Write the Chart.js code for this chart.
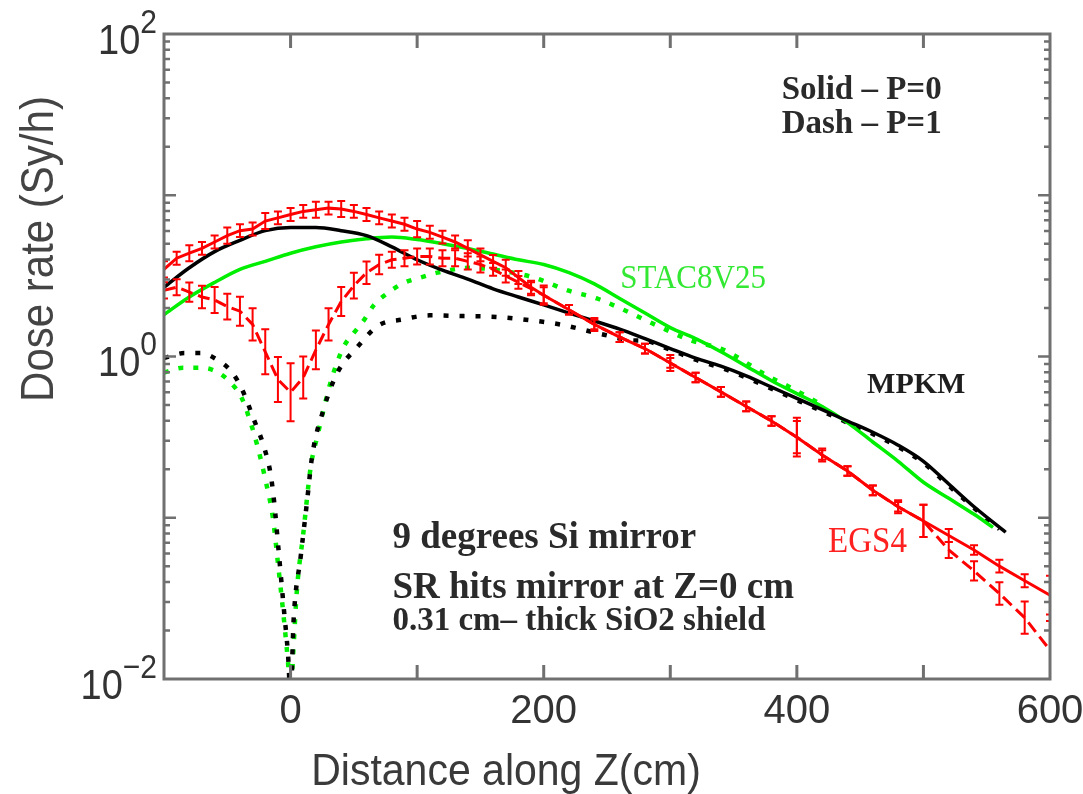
<!DOCTYPE html>
<html>
<head>
<meta charset="utf-8">
<script src="https://cdn.jsdelivr.net/npm/chart.js@4/dist/chart.umd.min.js"></script>
<style>
html,body{margin:0;padding:0;background:#fff;}
#wrap{width:1083px;height:794px;position:relative;}
</style>
</head>
<body>
<div id="wrap"><canvas id="c" width="1083" height="794"></canvas></div>
<script>
// ---------- data (Z in cm, dose rate in Sy/h) ----------
const Z_MPKM = [-100,-80,-60,-40,-20,0,20,40,60,80,100,120,140,160,180,200,220,240,260,280,300,320,340,360,380,400,420,440,460,480,500,520,540,565];
const MPKM_P0 = [2.69,3.55,4.47,5.25,6.03,6.31,6.31,6.03,5.62,4.79,3.98,3.43,3.02,2.63,2.34,2.09,1.86,1.66,1.48,1.29,1.12,0.977,0.871,0.759,0.646,0.550,0.468,0.398,0.339,0.282,0.224,0.162,0.117,0.0813];

const Z_MPKM_P1 = [-100,-84,-71,-58,-46,-38,-29,-21,-16,-13,-9.5,-5.5,-2,0,2.5,8,13,17,26,37,53,69,89,110,137,163,189,213,245,270,280,300,320,340,360,380,400,420,440,460,480,500,520,540,560];
const MPKM_P1 = [0.977,1.05,1.05,0.955,0.794,0.617,0.407,0.275,0.191,0.126,0.0631,0.0282,0.0141,0.0079,0.0240,0.0575,0.126,0.240,0.468,0.794,1.15,1.55,1.70,1.80,1.78,1.76,1.68,1.58,1.38,1.26,1.25,1.10,0.955,0.851,0.741,0.631,0.537,0.457,0.389,0.331,0.275,0.219,0.158,0.115,0.085];

const Z_STAC = [-100,-80,-60,-40,-20,0,20,40,60,80,100,120,140,160,180,200,220,240,260,280,300,320,340,360,380,400,420,440,460,480,500,520,540,555];
const STAC_P0 = [1.82,2.34,2.88,3.47,3.89,4.37,4.79,5.13,5.37,5.50,5.31,5.01,4.68,4.32,3.98,3.72,3.31,2.82,2.29,1.86,1.51,1.29,1.07,0.871,0.708,0.589,0.490,0.389,0.295,0.224,0.166,0.132,0.105,0.0871];

const Z_STAC_P1 = [-100,-85,-70,-57,-47,-39,-33,-26,-20,-14,-10,-5,-2,0,2,5,10,16,21,32,42,50,58,66,76,89,103,116,142,168,192,219,242,263,290,316,342,379,392,420];
const STAC_P1 = [0.794,0.851,0.851,0.794,0.684,0.562,0.422,0.275,0.174,0.100,0.0525,0.0224,0.0126,0.0079,0.0141,0.0355,0.0794,0.209,0.316,0.708,1.15,1.40,1.68,2.09,2.45,2.85,3.09,3.31,3.55,3.39,3.09,2.57,2.29,1.95,1.55,1.26,1.10,0.741,0.661,0.501];

const Z_EGS4 = [-100,-90,-80,-70,-60,-50,-40,-30,-20,-10,0,10,20,30,40,50,60,70,80,90,100,110,120,130,140,150,160,170,180,190,200,220,240,260,280,300,320,340,360,380,400,420,440,460,480,500,520,540,560,580,600];
const EGS4_P0 = [3.47,4.07,4.37,4.68,5.13,5.62,6.03,6.17,6.92,7.24,7.59,7.94,8.13,8.32,8.22,7.94,7.59,7.24,6.92,6.61,6.17,5.89,5.50,5.13,4.68,4.27,3.89,3.55,3.09,2.69,2.40,1.95,1.58,1.32,1.12,0.912,0.741,0.603,0.490,0.398,0.316,0.245,0.195,0.148,0.117,0.0955,0.0776,0.0631,0.0501,0.0407,0.0331];
const EGS4_P0_ERR = [0.05,0.04,0.05,0.04,0.04,0.05,0.04,0.04,0.05,0.04,0.04,0.04,0.05,0.04,0.05,0.04,0.04,0.04,0.04,0.04,0.05,0.04,0.04,0.04,0.05,0.04,0.04,0.05,0.04,0.04,0.06,0.03,0.04,0.03,0.03,0.05,0.03,0.03,0.03,0.03,0.12,0.04,0.03,0.03,0.04,0.10,0.04,0.03,0.04,0.04,0.12];
const EGS4_P1 = [2.57,2.69,2.51,2.34,2.24,2.04,1.91,1.58,1.07,0.72,0.60,0.74,1.10,1.58,2.19,2.75,3.31,3.72,3.98,4.07,4.17,4.17,4.07,4.07,3.89,3.72,3.47,3.16,2.88,2.63,2.40,1.95,1.58,1.32,1.12,0.912,0.741,0.603,0.490,0.398,0.316,0.245,0.195,0.148,0.117,0.0955,0.0631,0.0468,0.0339,0.0240,0.0151];
const EGS4_P1_ERR = [0.05,0.05,0.06,0.07,0.08,0.08,0.09,0.10,0.14,0.14,0.18,0.13,0.12,0.10,0.09,0.08,0.07,0.06,0.05,0.05,0.05,0.05,0.05,0.05,0.05,0.05,0.04,0.04,0.04,0.04,0.05,0.03,0.03,0.03,0.03,0.03,0.03,0.03,0.03,0.03,0.10,0.03,0.03,0.03,0.03,0.10,0.05,0.06,0.07,0.10,0.18];

const Y_LABEL_DECADES = [2, 0, -2];
const X_LABEL_STEP = 200;

// ---------- helpers ----------
const pts = (xs, ys) => xs.map((x, i) => ({x, y: ys[i]}));
const SANS = "'Liberation Sans', Arial, Helvetica, sans-serif";
const SERIF = "'Liberation Serif', 'Times New Roman', Times, serif";

const notes = [
  {text:'Solid \u2013 P=0', x:388, y:39.5, font:'bold 33px ' + SERIF, color:'#2a2a2a'},
  {text:'Dash \u2013 P=1', x:388, y:24.3, font:'bold 33px ' + SERIF, color:'#2a2a2a'},
  {text:'STAC8V25', x:260.5, y:2.66, font:'31px ' + SERIF, color:'#33e833', sy:1.12},
  {text:'MPKM', x:455.5, y:0.594, font:'bold 30px ' + SERIF, color:'#1e1e1e'},
  {text:'EGS4', x:424.7, y:0.0614, font:'33px ' + SERIF, color:'#ff2020', sy:1.1},
  {text:'9 degrees Si mirror', x:80.5, y:0.0649, font:'bold 37px ' + SERIF, color:'#2a2a2a'},
  {text:'SR hits mirror at Z=0 cm', x:80.5, y:0.0318, font:'bold 37px ' + SERIF, color:'#2a2a2a'},
  {text:'0.31 cm\u2013 thick SiO2 shield', x:80.5, y:0.0201, font:'bold 33px ' + SERIF, color:'#2a2a2a'}
];

function drawText(ctx, text, x, y, font, color, align, sy) {
  ctx.save();
  ctx.font = font;
  ctx.fillStyle = color;
  ctx.textAlign = align || 'left';
  ctx.textBaseline = 'alphabetic';
  ctx.translate(x, y);
  ctx.scale(1, sy || 1);
  ctx.fillText(text, 0, 0);
  ctx.restore();
}

const errorBars = {
  id: 'errorBars',
  afterDatasetsDraw(chart) {
    const {ctx, chartArea: a, scales: {x, y}} = chart;
    ctx.save();
    ctx.beginPath();
    ctx.rect(a.left, a.top, a.right - a.left, a.bottom - a.top);
    ctx.clip();
    chart.data.datasets.forEach((ds) => {
      if (!ds.errDex) return;
      ctx.strokeStyle = ds.borderColor;
      ctx.lineWidth = 2;
      ctx.setLineDash([]);
      ds.data.forEach((p, i) => {
        const e = Math.pow(10, ds.errDex[i]);
        const px = x.getPixelForValue(p.x);
        const y1 = y.getPixelForValue(p.y * e);
        const y2 = y.getPixelForValue(p.y / e);
        ctx.beginPath();
        ctx.moveTo(px, y1); ctx.lineTo(px, y2);
        ctx.moveTo(px - 4, y1); ctx.lineTo(px + 4, y1);
        ctx.moveTo(px - 4, y2); ctx.lineTo(px + 4, y2);
        ctx.stroke();
      });
    });
    ctx.restore();
  }
};

const frame = {
  id: 'frame',
  afterDraw(chart) {
    const {ctx, chartArea: a, scales: {x, y}} = chart;
    const col = '#707070';
    ctx.save();
    ctx.strokeStyle = col;
    ctx.lineWidth = 3;
    ctx.setLineDash([]);
    ctx.strokeRect(a.left, a.top, a.right - a.left, a.bottom - a.top);
    for (let v = x.min + 100; v < x.max; v += 100) {
      const px = x.getPixelForValue(v);
      ctx.beginPath();
      ctx.moveTo(px, a.bottom); ctx.lineTo(px, a.bottom - 14);
      ctx.moveTo(px, a.top); ctx.lineTo(px, a.top + 14);
      ctx.stroke();
    }
    ctx.lineWidth = 2.5;
    for (let d = -2; d < 2; d++) {
      for (let m = 1; m <= 9; m++) {
        const v = m * Math.pow(10, d);
        if (m === 1 && d === -2) continue;
        const py = y.getPixelForValue(v);
        const len = (m === 1) ? 12 : 6;
        ctx.beginPath();
        ctx.moveTo(a.left, py); ctx.lineTo(a.left + len, py);
        ctx.moveTo(a.right, py); ctx.lineTo(a.right - len, py);
        ctx.stroke();
      }
    }
    ctx.restore();

    const txtCol = '#333';
    Y_LABEL_DECADES.forEach(n => {
      const py = y.getPixelForValue(Math.pow(10, n));
      const sup = n < 0 ? '\u2212' + (-n) : String(n);
      ctx.save();
      ctx.font = '30px ' + SANS;
      const sw = ctx.measureText(sup).width;
      ctx.restore();
      const right = a.left - 7;
      drawText(ctx, sup, right - sw, py - 1.5, '30px ' + SANS, txtCol, 'left', 1.12);
      drawText(ctx, '10', right - sw, py + 19.5, '38px ' + SANS, txtCol, 'right', 1.14);
    });

    // x axis title
    drawText(ctx, 'Distance along Z(cm)', 506, 785, '41px ' + SANS, '#3a3a3a', 'center', 1.09);

    // y axis title
    ctx.save();
    ctx.translate(40, 249);
    ctx.rotate(-Math.PI / 2);
    ctx.scale(1, 1.08);
    ctx.font = '42px ' + SANS;
    ctx.fillStyle = '#444';
    ctx.textAlign = 'center';
    ctx.textBaseline = 'middle';
    ctx.fillText('Dose rate (Sy/h)', 0, 0);
    ctx.restore();

    notes.forEach(n => {
      drawText(ctx, n.text, x.getPixelForValue(n.x), y.getPixelForValue(n.y), n.font, n.color, 'left', n.sy || 1);
    });
  }
};

const RED = '#ff0000', GREEN = '#00ee00', BLACK = '#000000';

new Chart(document.getElementById('c'), {
  type: 'line',
  data: {
    datasets: [
      {label:'EGS4 P=0', data: pts(Z_EGS4, EGS4_P0), errDex: EGS4_P0_ERR, borderColor: RED, borderWidth: 3, tension: 0, pointRadius: 0},
      {label:'EGS4 P=1', data: pts(Z_EGS4, EGS4_P1), errDex: EGS4_P1_ERR, borderColor: RED, borderWidth: 3, borderDash: [12, 6], tension: 0, pointRadius: 0},
      {label:'MPKM P=0', data: pts(Z_MPKM, MPKM_P0), borderColor: BLACK, borderWidth: 3.5, tension: 0.4, cubicInterpolationMode: 'monotone', pointRadius: 0},
      {label:'STAC8V25 P=0', data: pts(Z_STAC, STAC_P0), borderColor: GREEN, borderWidth: 3.5, tension: 0.4, cubicInterpolationMode: 'monotone', pointRadius: 0},
      {label:'MPKM P=1', data: pts(Z_MPKM_P1, MPKM_P1), borderColor: BLACK, borderWidth: 4.5, borderDash: [5, 11], tension: 0.4, cubicInterpolationMode: 'monotone', pointRadius: 0},
      {label:'STAC8V25 P=1', data: pts(Z_STAC_P1, STAC_P1), borderColor: GREEN, borderWidth: 4.5, borderDash: [5, 10], tension: 0.4, cubicInterpolationMode: 'monotone', pointRadius: 0}
    ]
  },
  options: {
    responsive: false,
    animation: false,
    devicePixelRatio: 1,
    layout: {padding: {left: 0, top: 34, right: 33, bottom: 0}},
    plugins: {legend: {display: false}, tooltip: {enabled: false}},
    scales: {
      x: {
        type: 'linear', min: -100, max: 600,
        grid: {display: false}, border: {display: false},
        ticks: {
          stepSize: 100, autoSkip: false, maxRotation: 0, padding: 1,
          color: '#333', font: {size: 40, family: SANS},
          callback: v => (v % X_LABEL_STEP === 0 ? String(v) : '')
        },
        title: {display: false},
        afterFit: s => { s.height = 115; s.paddingLeft = 0; s.paddingRight = 0; }
      },
      y: {
        type: 'logarithmic', min: 0.01, max: 100,
        grid: {display: false}, border: {display: false},
        ticks: {display: false},
        afterFit: s => { s.width = 164; s.paddingTop = 0; s.paddingBottom = 0; }
      }
    }
  },
  plugins: [errorBars, frame]
});
</script>
</body>
</html>
